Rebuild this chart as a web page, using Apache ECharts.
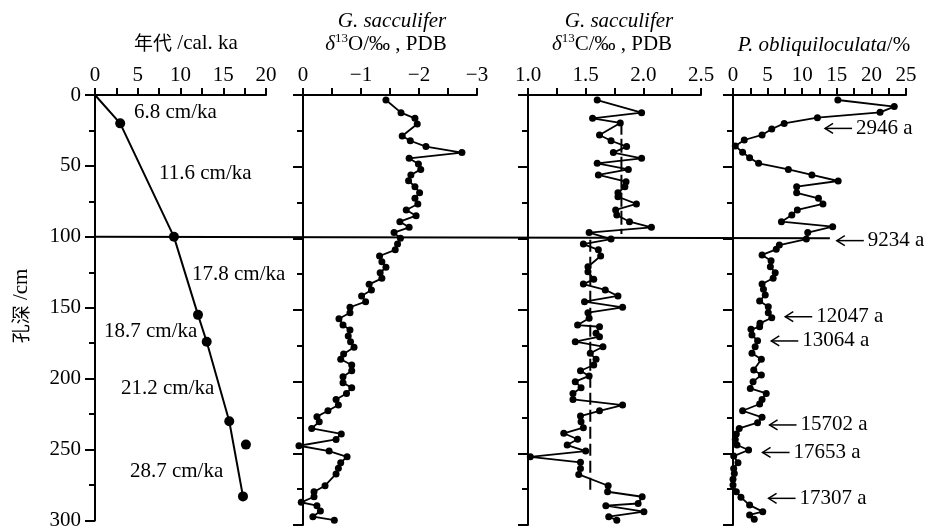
<!DOCTYPE html>
<html><head><meta charset="utf-8">
<script src="https://cdn.jsdelivr.net/npm/echarts@6/dist/echarts.min.js"></script>
<style>html,body{margin:0;padding:0;background:#fff}#c{width:925px;height:531px}</style>
</head><body><div id="c"></div>
<script>
// ---- Panel 1: age-depth model ----
const ageModelAge   = [0, 2.946, 9.234, 12.047, 13.064, 15.702, 17.307];
const ageModelDepth = [0, 20, 100, 155, 174, 230, 283];
const outlierAge    = [17.653];
const outlierDepth  = [246.5];
const rateLabels    = ['6.8 cm/ka', '11.6 cm/ka', '17.8 cm/ka', '18.7 cm/ka', '21.2 cm/ka', '28.7 cm/ka'];
const rateLabelAge  = [4.56, 7.49, 11.35, 1.05, 3.04, 4.09];
const rateLabelDepth= [12.6, 55.1, 126.3, 166.8, 207.2, 265.1];

// ---- Panel 2: G. sacculifer d18O ----
const o18Depth = [3.5,12.3,16.3,20.2,28.6,31.9,36,40.2,44.2,48.1,51.9,55.8,59.8,64,68.2,72.1,76,80.2,84.2,88.4,92.3,96,100,104,108,112.3,116.3,120.2,124,127.9,132.1,136,140.2,144.2,148.1,151.9,156.1,160.5,164,168.2,172.1,176,180.7,184.4,188.4,192.4,196.5,200.7,204.2,208.2,212.4,216.3,220.3,224.4,228,232.6,236.5,240.3,244.7,248.4,252.4,256.5,260.4,264.4,272.6,276.8,280.3,284.2,286.5,290.3,294.2,296.6];
const o18Value = [-1.43,-1.69,-1.93,-1.97,-1.71,-1.85,-2.12,-2.74,-1.83,-1.99,-2.03,-1.86,-1.82,-1.93,-2.01,-1.93,-1.98,-1.78,-1.95,-1.67,-1.83,-1.57,-1.68,-1.63,-1.59,-1.32,-1.36,-1.43,-1.33,-1.36,-1.14,-1.18,-1.01,-1.08,-0.81,-0.81,-0.62,-0.69,-0.81,-0.78,-0.82,-0.88,-0.70,-0.65,-0.84,-0.84,-0.69,-0.69,-0.84,-0.75,-0.57,-0.61,-0.43,-0.24,-0.28,-0.15,-0.66,-0.57,0.07,-0.45,-0.76,-0.65,-0.61,-0.57,-0.38,-0.19,-0.19,0.03,-0.24,-0.30,-0.17,-0.54];

// ---- Panel 3: G. sacculifer d13C ----
const c13Depth = [3.5,12.3,16.3,19.5,27.9,31.9,36,40.2,44.2,47.7,51.9,55.8,60.5,64,68.2,71,76,80.2,83.7,88.4,92.3,96,100.5,104,108,112.3,119.8,123.3,128.6,131.9,136,140.2,144.2,148.1,151.9,155.8,160.5,161.7,166.3,168.6,172.1,175.6,180.2,184.4,188.4,192.4,196,200,204.2,208.2,212.4,216.3,220.3,224,228,232.1,236,240.2,244.2,248.4,252.4,256.3,260.5,264.7,272.6,276.8,280.3,285,286.5,290.7,294.2,296.6];
const c13Value = [1.60,1.985,1.56,1.80,1.62,1.72,1.855,1.74,1.985,1.60,1.87,1.61,1.85,1.84,1.78,1.78,1.94,1.76,1.77,1.88,2.07,1.53,1.72,1.48,1.61,1.63,1.52,1.52,1.57,1.48,1.67,1.78,1.49,1.82,1.52,1.53,1.43,1.62,1.59,1.62,1.41,1.65,1.54,1.59,1.57,1.455,1.53,1.41,1.46,1.39,1.39,1.82,1.62,1.455,1.46,1.48,1.31,1.43,1.34,1.50,1.02,1.455,1.455,1.44,1.695,1.69,1.99,1.955,1.675,2.005,1.70,1.77];
const c13MeanUpperValue = 1.81, c13MeanUpperDepth = [18, 97];
const c13MeanLowerValue = 1.54, c13MeanLowerDepth = [101, 278];

// ---- Panel 4: P. obliquiloculata % ----
const pobDepth = [3.5,8.1,12.1,15.8,19.8,23.7,27.9,31.4,35.6,40,43.7,47.7,51.9,55.8,60,64,68.2,72.1,76,80.2,83.7,88.4,91.9,96,100.5,104.7,107.7,111.6,115.6,119.8,124,127.9,131.9,135.6,139.5,143.7,147.7,151.9,155.4,159.3,161.7,163.5,167.5,171.4,175.6,180.2,184.4,191.9,195.4,200,204.7,208.2,212.4,215.6,220.3,224.9,228.6,232.6,236.5,240.3,244.2,247.7,251.9,256.5,260.5,264,268.1,272.1,276.8,280.7,286.1,290.7,293,296];
const pobValue = [15.15,23.3,21.25,12.2,7.4,5.6,4.2,1.63,0.33,1.39,2.4,3.7,8.0,11.4,15.2,9.2,9.2,12.35,13.0,9.3,8.5,7.0,14.4,10.8,10.6,6.7,6.25,4.2,5.5,5.4,6.1,5.8,4.2,4.4,4.66,3.85,5.1,5.1,5.6,3.9,3.85,2.6,2.74,3.55,3.2,2.74,4.1,3.0,4.1,2.9,2.5,4.8,4.2,3.85,1.39,4.2,3.55,0.9,0.48,0.33,0.58,2.25,0.1,0.72,0.1,0.19,0.0,0.0,0.48,1.15,2.4,4.3,2.4,3.07];
const ageArrowLabels = ['2946 a', '9234 a', '12047 a', '13064 a', '15702 a', '17653 a', '17307 a'];
const ageArrowValue  = [13.3, 15.0, 7.55, 5.53, 5.28, 4.27, 5.14];
const ageArrowDepth  = [23.3, 101.6, 154.7, 171.6, 230.2, 249.4, 281.4];
const boundaryDepth = 100, boundaryEndValue = 14.0;

// ---- Axis ticks ----
const panel1XTicks = [0, 20, 5];
const panel2XTicks = [-3, 0, 1];
const panel3XTicks = [1.0, 2.5, 0.5];
const panel4XTicks = [0, 25, 5];
const depthTicks = [0, 300, 50];

const SERIF = '"Liberation Serif", "Times New Roman", serif';
const CJK = '"Noto Sans CJK SC", sans-serif';
const FS = 21;

const grids = [
  {left: 95, top: 95, width: 171, height: 430},
  {left: 303, top: 95, width: 174, height: 430},
  {left: 528, top: 95, width: 173, height: 430},
  {left: 733, top: 95, width: 173, height: 430}
];

function xAx(gi, t, extra) {
  return Object.assign({
    type: 'value', gridIndex: gi, position: 'top', min: t[0], max: t[1], interval: t[2],
    axisLine: {show: true, onZero: false, lineStyle: {color: '#000', width: 2}},
    axisTick: {show: true, inside: false, length: 7, lineStyle: {color: '#000', width: 2}},
    minorTick: {show: true, splitNumber: 2, length: 7, lineStyle: {color: '#000', width: 2}},
    axisLabel: {show: true, margin: 9, color: '#000', fontFamily: SERIF, fontSize: FS},
    splitLine: {show: false}, minorSplitLine: {show: false}
  }, extra || {});
}
function yAx(gi, showLabel) {
  return {
    type: 'value', gridIndex: gi, min: depthTicks[0], max: depthTicks[1], interval: depthTicks[2], inverse: true,
    axisLine: {show: true, onZero: false, lineStyle: {color: '#000', width: 2}},
    axisTick: {show: true, inside: false, length: 10, lineStyle: {color: '#000', width: 2}},
    minorTick: {show: true, splitNumber: 2, length: 6, lineStyle: {color: '#000', width: 2}},
    axisLabel: {show: showLabel, margin: 14, color: '#000', fontFamily: SERIF, fontSize: FS},
    splitLine: {show: false}, minorSplitLine: {show: false}
  };
}
const zip = (a, b) => a.map((v, i) => [v, b[i]]);

const chart = echarts.init(document.getElementById('c'));
const dotLine = (xi, xs, ys) => ({
  type: 'line', xAxisIndex: xi, yAxisIndex: xi, data: zip(xs, ys), symbol: 'circle', symbolSize: 7,
  showAllSymbol: true, lineStyle: {color: '#000', width: 1.8}, itemStyle: {color: '#000', opacity: 1}, clip: false, z: 3
});

chart.setOption({
  animation: false,
  backgroundColor: '#fff',
  grid: grids,
  xAxis: [
    xAx(0, panel1XTicks),
    xAx(1, panel2XTicks, {inverse: true, axisLabel: {show: true, margin: 9, color: '#000', fontFamily: SERIF, fontSize: FS, formatter: v => String(v).replace('-', '\u2212')}}),
    xAx(2, panel3XTicks, {axisLabel: {show: true, margin: 9, color: '#000', fontFamily: SERIF, fontSize: FS, formatter: v => v.toFixed(1)}}),
    xAx(3, panel4XTicks)
  ],
  yAxis: [yAx(0, true), yAx(1, false), yAx(2, false), yAx(3, false)],
  series: [
    {
      type: 'line', xAxisIndex: 0, yAxisIndex: 0,
      data: ageModelAge.map((a, i) => i === 0 ? {value: [a, ageModelDepth[i]], symbol: 'none'} : [a, ageModelDepth[i]]),
      symbol: 'circle', symbolSize: 10, lineStyle: {color: '#000', width: 2}, itemStyle: {color: '#000', opacity: 1}, clip: false
    },
    {type: 'scatter', xAxisIndex: 0, yAxisIndex: 0, data: zip(outlierAge, outlierDepth), symbol: 'circle', symbolSize: 10, itemStyle: {color: '#000', opacity: 1}},
    {
      type: 'custom', xAxisIndex: 0, yAxisIndex: 0, data: rateLabelAge.map((a, i) => [a, rateLabelDepth[i], i]),
      renderItem: (p, api) => {
        const c = api.coord([api.value(0), api.value(1)]);
        return {type: 'text', x: c[0], y: c[1], style: {text: rateLabels[api.value(2)], font: FS + 'px ' + SERIF, fill: '#000', align: 'left', verticalAlign: 'middle'}};
      }
    },
    dotLine(1, o18Value, o18Depth),
    dotLine(2, c13Value, c13Depth),
    {type: 'line', xAxisIndex: 2, yAxisIndex: 2, data: c13MeanUpperDepth.map(d => [c13MeanUpperValue, d]), symbol: 'none', lineStyle: {color: '#000', width: 2, type: [14, 4]}},
    {type: 'line', xAxisIndex: 2, yAxisIndex: 2, data: c13MeanLowerDepth.map(d => [c13MeanLowerValue, d]), symbol: 'none', lineStyle: {color: '#000', width: 2, type: [12, 5]}},
    dotLine(3, pobValue, pobDepth),
    {
      type: 'custom', xAxisIndex: 3, yAxisIndex: 3, data: ageArrowValue.map((v, i) => [v, ageArrowDepth[i], i]),
      renderItem: (p, api) => {
        const c = api.coord([api.value(0), api.value(1)]);
        const x = c[0], y = c[1];
        return {type: 'group', children: [
          {type: 'line', shape: {x1: x, y1: y, x2: x + 27, y2: y}, style: {stroke: '#000', lineWidth: 1.5}},
          {type: 'polyline', shape: {points: [[x + 8, y - 5], [x, y], [x + 8, y + 5]]}, style: {stroke: '#000', lineWidth: 1.5, fill: null}},
          {type: 'text', x: x + 31, y: y, style: {text: ageArrowLabels[api.value(2)], font: FS + 'px ' + SERIF, fill: '#000', align: 'left', verticalAlign: 'middle'}}
        ]};
      }
    }
  ]
});

const p0 = chart.convertToPixel({xAxisIndex: 0, yAxisIndex: 0}, [0, boundaryDepth]);
const p1 = chart.convertToPixel({xAxisIndex: 3, yAxisIndex: 3}, [boundaryEndValue, boundaryDepth]);

const rich = {
  i: {fontFamily: SERIF, fontStyle: 'italic', fontSize: FS, lineHeight: 24, color: '#000'},
  n: {fontFamily: SERIF, fontSize: FS, lineHeight: 24, color: '#000'},
  s: {fontFamily: SERIF, fontSize: 13, lineHeight: 14, verticalAlign: 'top', color: '#000'},
  cj: {fontFamily: CJK, fontSize: 19, lineHeight: 24, color: '#555'}
};
function title(x, y, text, rot) {
  return {type: 'text', x: x, y: y, rotation: rot || 0, style: {text: text, rich: rich, align: 'center', verticalAlign: 'middle', font: FS + 'px ' + SERIF, fill: '#000'}};
}
chart.setOption({
  graphic: [
    {type: 'line', shape: {x1: p0[0], y1: p0[1], x2: p1[0], y2: p1[1]}, style: {stroke: '#000', lineWidth: 2}, z: 10},
    title(186, 43, '{cj|年代}{n| /cal. ka}'),
    title(392, 21, '{i|G. sacculifer}'),
    title(386, 44, '{i|δ}{s|13}{n|O/‰ , PDB}'),
    title(619, 21, '{i|G. sacculifer}'),
    title(612, 44, '{i|δ}{s|13}{n|C/‰ , PDB}'),
    title(824, 45, '{i|P. obliquiloculata}{n|/%}'),
    title(21, 306, '{cj|孔深}{n| /cm}', Math.PI / 2)
  ]
});
</script>
</body></html>
